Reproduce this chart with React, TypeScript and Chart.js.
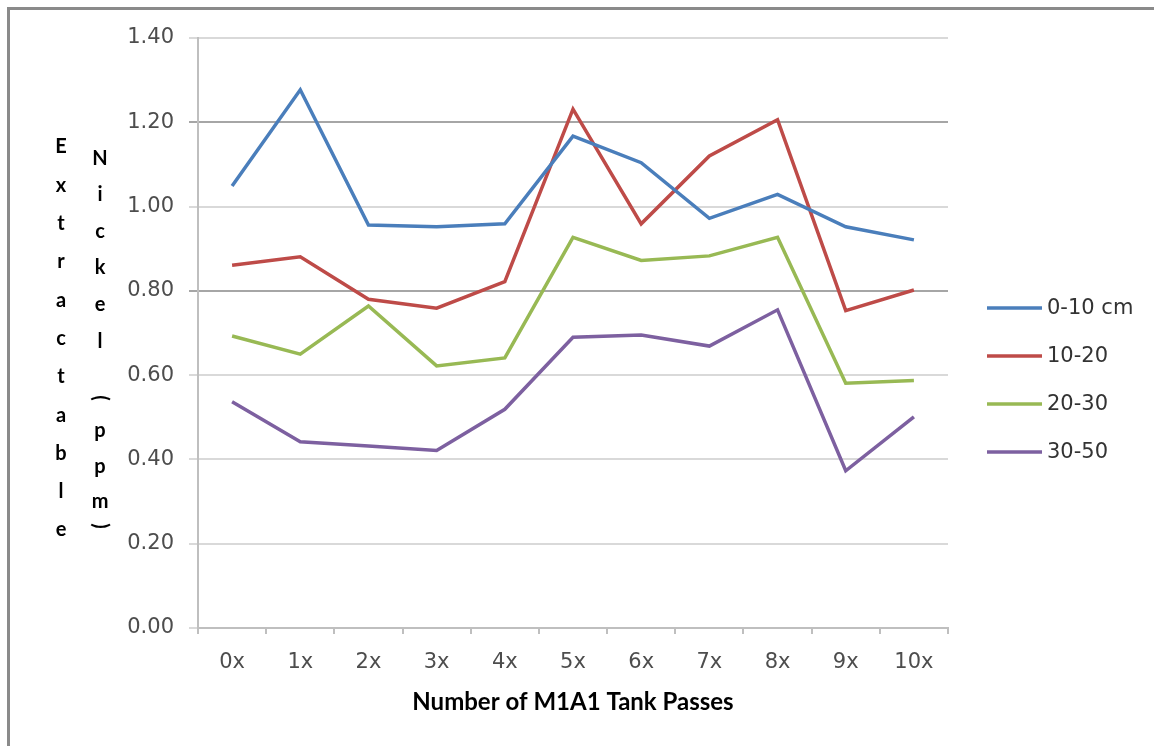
import React, { useEffect, useRef } from "react";
import { Chart, registerables } from "chart.js";

Chart.register(...registerables);

// ---- data ----
const categories = ["0x", "1x", "2x", "3x", "4x", "5x", "6x", "7x", "8x", "9x", "10x"];
const seriesNames = ["0-10 cm", "10-20", "20-30", "30-50"];
const depth0to10 = [1.049, 1.277, 0.956, 0.952, 0.959, 1.167, 1.104, 0.972, 1.029, 0.952, 0.921];
const depth10to20 = [0.861, 0.881, 0.780, 0.759, 0.822, 1.231, 0.959, 1.120, 1.206, 0.753, 0.802];
const depth20to30 = [0.693, 0.650, 0.764, 0.622, 0.641, 0.927, 0.872, 0.883, 0.927, 0.581, 0.587];
const depth30to50 = [0.537, 0.442, 0.432, 0.421, 0.519, 0.690, 0.695, 0.669, 0.755, 0.373, 0.501];
const seriesColors = ["#4A7EBB", "#BE4B48", "#98B954", "#7D60A0"];
const yMin = 0;
const yMax = 1.4;
const yStep = 0.2;
const xTitle = "Number of M1A1 Tank Passes";
const yTitleCol1 = "Extractable";
const yTitleCol2 = "Nickel(ppm)";

const seriesValues = [depth0to10, depth10to20, depth20to30, depth30to50];

const legendPlugin = {
  id: "sideLegend",
  afterDraw(chart: any) {
    const { ctx, chartArea } = chart;
    const x0 = chartArea.right + 39;
    const lineLen = 55;
    const centerY = chart.height / 2 + 7;
    const step = 48;
    ctx.save();
    ctx.font = "21px 'DejaVu Sans'";
    ctx.textBaseline = "middle";
    ctx.textAlign = "left";
    chart.data.datasets.forEach((ds: any, i: number) => {
      const y = centerY + (i - (chart.data.datasets.length - 1) / 2) * step;
      ctx.strokeStyle = ds.borderColor;
      ctx.lineWidth = 3.5;
      ctx.lineCap = "butt";
      ctx.beginPath();
      ctx.moveTo(x0, y);
      ctx.lineTo(x0 + lineLen, y);
      ctx.stroke();
      ctx.fillStyle = "#333333";
      ctx.fillText(ds.label, x0 + lineLen + 5, y + 1);
    });
    ctx.restore();
  },
};

const stackedTitlePlugin = {
  id: "stackedTitle",
  afterDraw(chart: any) {
    const { ctx } = chart;
    ctx.save();
    ctx.font = "bold 20px Lato";
    ctx.fillStyle = "#000000";
    ctx.textAlign = "center";
    ctx.textBaseline = "middle";
    // column 1
    const c1x = 61;
    const c1y0 = 147;
    const c1step = 38.3;
    yTitleCol1.split("").forEach((ch, i) => {
      ctx.fillText(ch, c1x, c1y0 + i * c1step);
    });
    // column 2
    const c2x = 100;
    const c2pos = [159, 195, 232, 268, 305, 342, 398, 431, 467, 502, 526];
    yTitleCol2.split("").forEach((ch, i) => {
      const y = c2pos[i];
      if (ch === "(" || ch === ")") {
        ctx.save();
        ctx.translate(c2x, y);
        ctx.rotate(Math.PI / 2);
        ctx.fillText(ch, 0, 0);
        ctx.restore();
      } else {
        ctx.fillText(ch, c2x, y);
      }
    });
    ctx.restore();
  },
};

export default function App() {
  const canvasRef = useRef<HTMLCanvasElement | null>(null);

  useEffect(() => {
    if (!canvasRef.current) return;
    const chart = new Chart(canvasRef.current, {
      type: "line",
      data: {
        labels: categories,
        datasets: seriesNames.map((name, i) => ({
          label: name,
          data: seriesValues[i],
          borderColor: seriesColors[i],
          backgroundColor: seriesColors[i],
          borderWidth: 3.5,
          pointRadius: 0,
          pointHoverRadius: 0,
          tension: 0,
          fill: false,
        })),
      },
      options: {
        responsive: false,
        animation: false,
        devicePixelRatio: 1,
        layout: { padding: { left: 0, top: 38, right: 206, bottom: 0 } },
        plugins: {
          legend: { display: false },
          tooltip: { enabled: false },
          title: { display: false },
        },
        scales: {
          x: {
            type: "category",
            offset: true,
            grid: {
              display: true,
              offset: true,
              drawOnChartArea: false,
              drawTicks: true,
              tickLength: 6,
              color: "#BFBFBF",
              lineWidth: 2,
            },
            border: { display: true, color: "#BFBFBF", width: 2 },
            ticks: {
              color: "#4D4D4D",
              font: { family: "'DejaVu Sans'", size: 21 },
              padding: 16,
              maxRotation: 0,
              autoSkip: false,
            },
            title: {
              display: true,
              text: xTitle,
              color: "#000000",
              font: { family: "Lato", size: 24, weight: "bold" },
              padding: { top: 0, bottom: 29 },
            },
            afterFit(scale: any) {
              scale.height = 118;
            },
          },
          y: {
            min: yMin,
            max: yMax,
            ticks: {
              stepSize: yStep,
              color: "#4D4D4D",
              font: { family: "'DejaVu Sans'", size: 21 },
              padding: 15,
              callback: (v: any) => Number(v).toFixed(2),
            },
            grid: {
              drawTicks: true,
              tickLength: 9,
              lineWidth: 2,
              color: (ctx: any) => {
                const v = ctx.tick ? Math.round(ctx.tick.value * 100) / 100 : -1;
                if (v === 1.2 || v === 0.8) return "#A6A6A6";
                return "#D9D9D9";
              },
            },
            border: { display: true, color: "#BFBFBF", width: 2 },
            afterFit(scale: any) {
              scale.width = 198;
            },
          },
        },
      },
      plugins: [legendPlugin, stackedTitlePlugin],
    } as any);
    return () => chart.destroy();
  }, []);

  return (
    <div
      style={{
        position: "fixed",
        left: 0,
        top: 0,
        width: 1154,
        height: 746,
        overflow: "hidden",
        background: "#ffffff",
      }}
    >
      <div
        style={{
          position: "absolute",
          left: 7,
          top: 7,
          width: 1300,
          height: 900,
          borderTop: "3px solid #8A8A8A",
          borderLeft: "3px solid #8A8A8A",
        }}
      />
      <canvas
        ref={canvasRef}
        width={1154}
        height={746}
        style={{ position: "absolute", left: 0, top: 0 }}
      />
    </div>
  );
}
